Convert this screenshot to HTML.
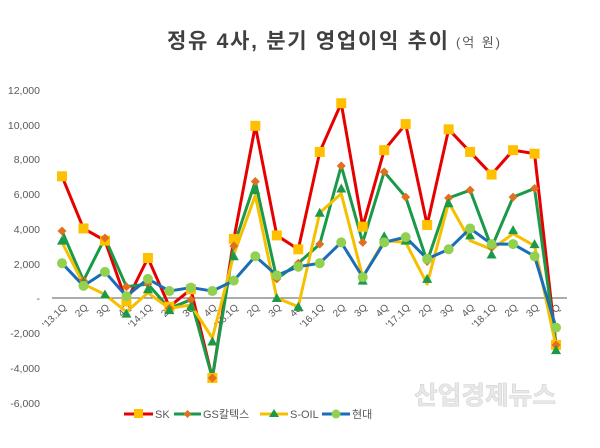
<!DOCTYPE html>
<html><head><meta charset="utf-8"><style>
html,body{margin:0;padding:0;background:#fff;}
svg{display:block;font-family:"Liberation Sans","Noto Sans CJK KR",sans-serif;}
</style></head><body>
<svg id="c" width="600" height="448" viewBox="0 0 600 448" xmlns="http://www.w3.org/2000/svg">
<rect width="600" height="448" fill="#fff"/>
<text x="167" y="48" font-size="21" font-weight="bold" fill="#404040" textLength="281" lengthAdjust="spacing">정유 4사, 분기 영업이익 추이</text>
<text x="456" y="47" font-size="13" fill="#595959" textLength="44" lengthAdjust="spacing">(억 원)</text>
<g font-size="10.5" fill="#595959" text-anchor="end">
<text x="40" y="94">12,000</text>
<text x="40" y="129">10,000</text>
<text x="40" y="163">8,000</text>
<text x="40" y="198">6,000</text>
<text x="40" y="233">4,000</text>
<text x="40" y="268">2,000</text>
<text x="40" y="302">-</text>
<text x="40" y="337">-2,000</text>
<text x="40" y="372">-4,000</text>
<text x="40" y="407">-6,000</text>
</g>
<line x1="52" y1="298" x2="567" y2="298" stroke="#595959" stroke-width="1"/>
<g id="xl" font-size="10" fill="#595959" text-anchor="end"></g>
<g id="series"></g>
<text x="414" y="404" font-size="25" font-weight="bold" fill="#e8e8e8" stroke="#d4d4d4" stroke-width="0.6" textLength="142" lengthAdjust="spacingAndGlyphs">산업경제뉴스</text>
<g font-size="11" fill="#595959">
<line x1="124" y1="414" x2="153" y2="414" stroke="#e60000" stroke-width="3"/><rect x="134" y="409" width="9" height="9" fill="#ffc000"/><text x="155" y="418">SK</text>
<line x1="174" y1="414" x2="201" y2="414" stroke="#1a9a48" stroke-width="3"/><path d="M187.5 410l4 4-4 4-4-4z" fill="#e07020"/><text x="203" y="418">GS칼텍스</text>
<line x1="260" y1="414" x2="288" y2="414" stroke="#f5c000" stroke-width="3"/><path d="M274 409l5 8h-10z" fill="#1a9a48"/><text x="290" y="418">S-OIL</text>
<line x1="322" y1="414" x2="350" y2="414" stroke="#1a6eb8" stroke-width="3"/><circle cx="336" cy="414" r="4.5" fill="#92d050"/><text x="352" y="418">현대</text>
</g>
</svg>
<script>
var NS="http://www.w3.org/2000/svg";
function X(i){return 62+i*21.48;}
function Y(v){return 298-v*0.01739;}
var labels=["'13.1Q","2Q","3Q","4Q","'14.1Q","2Q","3Q","4Q","'15.1Q","2Q","3Q","4Q","'16.1Q","2Q","3Q","4Q","'17.1Q","2Q","3Q","4Q","'18.1Q","2Q","3Q","4Q"];
var xl=document.getElementById('xl');
labels.forEach(function(l,i){var t=document.createElementNS(NS,'text');var x=X(i)+5,y=308;t.setAttribute('x',x);t.setAttribute('y',y);t.setAttribute('transform','rotate(-45 '+x+' '+y+')');t.textContent=l;xl.appendChild(t);});
var hd=[2000,700,1500,100,1100,400,600,400,1000,2400,1300,1800,2000,3200,1200,3200,3500,2250,2800,4000,3100,3100,2400,-1700];
var so=[3300,900,200,-900,500,-700,-500,-2500,2400,6200,0,-500,4900,6300,1000,3550,3300,1100,5450,3600,2500,3900,3100,-3000];
var soL=[3200,800,200,-800,300,-600,-400,-2300,2500,5900,0,-500,4900,6000,1200,3300,3200,800,5500,3300,2800,3700,3000,-2800];
var gs=[3850,1000,3450,650,800,-600,-100,-4600,3000,6700,1100,2000,3100,7600,3200,7250,5800,2100,5750,6200,2900,5800,6300,-2700];
var sk=[7000,4000,3300,-200,2300,-500,500,-4600,3400,9900,3600,2800,8400,11200,4100,8500,10000,4200,9700,8400,7100,8500,8300,-2700];
var g=document.getElementById('series');
function line(d,c){var p=document.createElementNS(NS,'polyline');p.setAttribute('points',d.map(function(v,i){return X(i)+','+Y(v)}).join(' '));p.setAttribute('fill','none');p.setAttribute('stroke',c);p.setAttribute('stroke-width','3');p.setAttribute('stroke-linejoin','round');g.appendChild(p);}
function mk(d,type){d.forEach(function(v,i){var x=X(i),y=Y(v),e;
 if(type=='sq'){e=document.createElementNS(NS,'rect');e.setAttribute('x',x-5);e.setAttribute('y',y-5);e.setAttribute('width',10);e.setAttribute('height',10);e.setAttribute('fill','#ffc000');}
 else if(type=='di'){e=document.createElementNS(NS,'path');e.setAttribute('d','M'+x+' '+(y-4.5)+'l4.5 4.5-4.5 4.5-4.5-4.5z');e.setAttribute('fill','#e07020');}
 else if(type=='tr'){e=document.createElementNS(NS,'path');e.setAttribute('d','M'+x+' '+(y-5)+'l5 9h-10z');e.setAttribute('fill','#1a9a48');}
 else {e=document.createElementNS(NS,'circle');e.setAttribute('cx',x);e.setAttribute('cy',y);e.setAttribute('r',5);e.setAttribute('fill','#92d050');}
 g.appendChild(e);});}
line(sk,'#e60000');line(gs,'#1a9a48');line(soL,'#f5c000');line(hd,'#1a6eb8');
mk(sk,'sq');mk(gs,'di');mk(so,'tr');mk(hd,'ci');
</script>
</body></html>
